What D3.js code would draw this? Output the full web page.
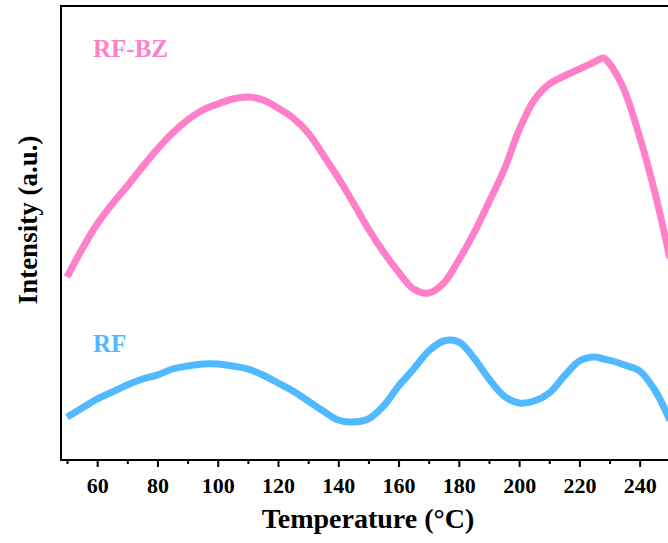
<!DOCTYPE html>
<html>
<head>
<meta charset="utf-8">
<script src="https://cdn.jsdelivr.net/npm/d3@7"></script>
<style>
 body { margin: 0; background: #fff; }
 svg text { font-family: "Liberation Serif", "Times New Roman", serif; font-weight: bold; }
</style>
</head>
<body>
<div id="chart"></div>
<script>
// temperature grid (°C) and the two curves, intensity in arbitrary units
var temps = [50, 55, 60, 65, 70, 75, 80, 85, 90, 95, 100, 105, 110, 115, 120, 125, 130, 135, 140, 145,
 150, 155, 160, 165, 170, 175, 180, 185, 190, 195, 200, 205, 210, 215, 220, 225, 228, 231, 235, 240, 245, 250];
var rfbz = [183, 211, 236, 256, 274, 293, 311, 327, 340, 350, 356, 361, 363, 360, 352, 342, 327, 305, 282, 257,
 231, 208, 188, 171, 167, 177, 200, 227, 258, 290, 330, 360, 376, 384, 391, 398, 402, 392, 369, 323, 268, 202];
var rf = [43, 52, 61, 68, 75, 81, 85, 91, 94, 96, 96, 94, 91, 85, 77, 69, 59, 49, 40, 38,
 41, 54, 74, 91, 109, 119, 118, 102, 81, 64, 57, 59, 67, 84, 99, 103, 101, 99, 95, 89, 70, 40];
var xTicks = [60, 80, 100, 120, 140, 160, 180, 200, 220, 240];
var xMinor = [50, 70, 90, 110, 130, 150, 170, 190, 210, 230, 250];

var w = 668, h = 543;
var svg = d3.select("#chart").append("svg")
 .attr("width", w)
 .attr("height", h);

var x = d3.scaleLinear().domain([48, 250]).range([61, 61 + 202 * 3.014]);
var y = d3.scaleLinear().domain([0, 454]).range([460, 6]);

// the curves
var line = d3.line()
 .x(function(d) { return x(d[0]); })
 .y(function(d) { return y(d[1]); })
 .curve(d3.curveCatmullRom);

svg.append("path")
 .datum(temps.map(function(t, i) { return [t, rfbz[i]]; }))
 .attr("d", line)
 .attr("fill", "none")
 .attr("stroke", "#ff80c8")
 .attr("stroke-width", 7)
 .attr("stroke-linejoin", "round");

svg.append("path")
 .datum(temps.map(function(t, i) { return [t, rf[i]]; }))
 .attr("d", line)
 .attr("fill", "none")
 .attr("stroke", "#50b9ff")
 .attr("stroke-width", 7)
 .attr("stroke-linejoin", "round");

// frame (right side is outside the picture)
svg.append("path")
 .attr("d", "M" + (w + 5) + ",6H61V460H" + (w + 5))
 .attr("fill", "none")
 .attr("stroke", "#000")
 .attr("stroke-width", 2);

// x axis, major and minor ticks
var xAxis = svg.append("g")
 .attr("transform", "translate(0,460)")
 .call(d3.axisBottom(x).tickValues(xTicks).tickSize(7).tickSizeOuter(0).tickPadding(10));
xAxis.select(".domain").remove();
xAxis.selectAll(".tick line").attr("stroke-width", 2);
xAxis.selectAll(".tick text")
 .attr("font-size", "22px")
 .attr("fill", "#000");
xAxis.attr("font-family", null).attr("font-size", null);

var xMinorAxis = svg.append("g")
 .attr("transform", "translate(0,460)")
 .call(d3.axisBottom(x).tickValues(xMinor).tickSize(4).tickSizeOuter(0).tickFormat(""));
xMinorAxis.select(".domain").remove();
xMinorAxis.selectAll(".tick line").attr("stroke-width", 2);

// axis titles
svg.append("text")
 .attr("x", 368)
 .attr("y", 528)
 .attr("text-anchor", "middle")
 .attr("font-size", "28px")
 .text("Temperature (°C)");

svg.append("text")
 .attr("transform", "translate(37,220) rotate(-90)")
 .attr("text-anchor", "middle")
 .attr("font-size", "27px")
 .text("Intensity (a.u.)");

// series labels
svg.append("text")
 .attr("x", 93)
 .attr("y", 57)
 .attr("font-size", "25px")
 .attr("fill", "#ff80c8")
 .text("RF-BZ");

svg.append("text")
 .attr("x", 93)
 .attr("y", 352)
 .attr("font-size", "25px")
 .attr("fill", "#50b9ff")
 .text("RF");
</script>
</body>
</html>
